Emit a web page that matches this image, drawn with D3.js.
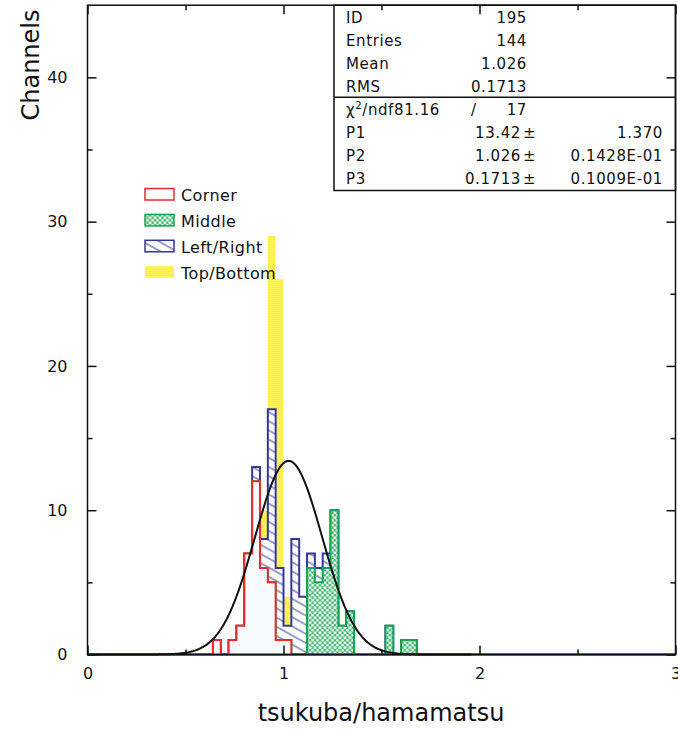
<!DOCTYPE html>
<html>
<head>
<meta charset="utf-8">
<script src="https://cdn.jsdelivr.net/npm/d3@7"></script>
<style>
  body { margin: 0; background: #fff; }
  text { font-family: "DejaVu Sans", sans-serif; fill: #111; }
</style>
</head>
<body>
<div id="chart"></div>
<script>
// histogram binning (tsukuba/hamamatsu ratio)
var binWidth = 0.04,
    xMin = 0, xMax = 3,
    firstBinLow = 0.64;

// counts per bin starting at 0.64, each histogram is cumulative like in the original plot
var corner        = [1,0,1,2,7,12,6,5,1,1,0,0,0,0,0,0,0,0,0,0,0,0,0,0,0,0];
var cornerMiddle  = [1,0,1,2,7,12,6,5,1,1,0,0,6,5,6,10,2,3,0,0,0,0,2,0,1,1];
var withLeftRight = [1,0,1,2,7,13,8,17,6,2,8,4,7,6,7,10,2,3,0,0,0,0,2,0,1,1];
var allChannels   = [1,0,1,2,7,13,10,29,26,4,8,4,7,6,7,10,2,3,0,0,0,0,2,0,1,1];

// gaussian fit parameters
var fitP1 = 13.42, fitP2 = 1.026, fitP3 = 0.1713;
var fitRange = [0, 1.96];

// axis ticks
var xTicks = [0, 1, 2, 3];
var xMinorTicks = [0.5, 1.5, 2.5];
var yTicks = [0, 10, 20, 30, 40];
var yMinorTicks = [5, 15, 25, 35];

// stats box text
var statLabels = ["ID", "Entries", "Mean", "RMS"];
var statValues = ["195", "144", "1.026", "0.1713"];
var chi2 = "81.16", ndf = "17";
var fitLabels = ["P1", "P2", "P3"];
var fitValues = ["13.42", "1.026", "0.1713"];
var fitErrors = ["1.370", "0.1428E-01", "0.1009E-01"];

var legendNames = ["Corner", "Middle", "Left/Right", "Top/Bottom"];

// set the dimensions and margins of the graph
var W = 678, H = 731;
var margin = { top: 5.2, right: 2.5, bottom: 76.5, left: 87.5 },
    width = W - margin.left - margin.right,
    height = H - margin.top - margin.bottom;

var svg = d3.select("#chart")
    .append("svg")
    .attr("width", W)
    .attr("height", H);

svg.append("rect").attr("width", W).attr("height", H).attr("fill", "#fff");

var defs = svg.append("defs");

// yellow dotted fill
var pY = defs.append("pattern").attr("id", "patYellow")
    .attr("patternUnits", "userSpaceOnUse").attr("width", 2).attr("height", 2);
pY.append("rect").attr("width", 2).attr("height", 2).attr("fill", "#fff21a");
pY.append("rect").attr("x", 1).attr("y", 1).attr("width", 1).attr("height", 1).attr("fill", "#fff9a8");

// green mesh fill
var pG = defs.append("pattern").attr("id", "patGreen")
    .attr("patternUnits", "userSpaceOnUse").attr("width", 5).attr("height", 5);
pG.append("rect").attr("width", 5).attr("height", 5).attr("fill", "#12a64e");
[[0, 0], [5, 0], [0, 5], [5, 5], [2.5, 2.5]].forEach(function (c) {
    pG.append("circle").attr("cx", c[0]).attr("cy", c[1]).attr("r", 1.6).attr("fill", "#fff");
});

// blue hatch fill
var pB = defs.append("pattern").attr("id", "patBlue")
    .attr("patternUnits", "userSpaceOnUse").attr("width", 10).attr("height", 8)
    .attr("patternTransform", "rotate(29)");
pB.append("rect").attr("width", 10).attr("height", 8).attr("fill", "#fff");
pB.append("line").attr("x1", 0).attr("x2", 10).attr("y1", 4).attr("y2", 4)
    .attr("stroke", "#33399a").attr("stroke-width", 1);

var g = svg.append("g")
    .attr("transform", "translate(" + margin.left + "," + margin.top + ")");

var x = d3.scaleLinear().domain([xMin, xMax]).range([0, width]);
var y = d3.scaleLinear().domain([0, 45]).range([height, 0]);

var nBins = Math.round((xMax - xMin) / binWidth);
var offset = Math.round((firstBinLow - xMin) / binWidth);

function fullBins(counts) {
    var pts = [];
    for (var i = 0; i < nBins; i++) {
        var j = i - offset;
        var v = (j >= 0 && j < counts.length) ? counts[j] : 0;
        pts.push({ x: xMin + i * binWidth, v: v });
    }
    pts.push({ x: xMax, v: pts[pts.length - 1].v });
    return pts;
}

var area = d3.area()
    .x(function (d) { return x(d.x); })
    .y0(y(0))
    .y1(function (d) { return y(d.v); })
    .curve(d3.curveStepAfter);

var hists = [
    { data: allChannels,   fill: "url(#patYellow)", stroke: "none" },
    { data: withLeftRight, fill: "url(#patBlue)",   stroke: "#33399a" },
    { data: cornerMiddle,  fill: "url(#patGreen)",  stroke: "#12a64e" },
    { data: corner,        fill: "#f6fafa",         stroke: "#ee2a2a" }
];

hists.forEach(function (h) {
    g.append("path")
        .datum(fullBins(h.data))
        .attr("d", area)
        .attr("fill", h.fill)
        .attr("stroke", h.stroke)
        .attr("stroke-width", 2)
        .attr("stroke-linejoin", "miter");
});

// gaussian fit curve
var curvePts = d3.range(fitRange[0], fitRange[1] + 1e-9, 0.01).map(function (t) {
    return { x: t, v: fitP1 * Math.exp(-0.5 * Math.pow((t - fitP2) / fitP3, 2)) };
});
g.append("path")
    .datum(curvePts)
    .attr("d", d3.line().x(function (d) { return x(d.x); }).y(function (d) { return y(d.v); }))
    .attr("fill", "none")
    .attr("stroke", "#111")
    .attr("stroke-width", 2);

// stats box
var boxLeft = 334 - margin.left, boxBottom = 190.5 - margin.top, boxDiv = 97.3 - margin.top;
g.append("rect")
    .attr("x", boxLeft).attr("y", 0)
    .attr("width", width - boxLeft).attr("height", boxBottom)
    .attr("fill", "#fff").attr("stroke", "#111").attr("stroke-width", 1.5);
g.append("line")
    .attr("x1", boxLeft).attr("x2", width).attr("y1", boxDiv).attr("y2", boxDiv)
    .attr("stroke", "#111").attr("stroke-width", 1.5);

var rowH = 23, row0 = 23.5 - margin.top;
var labX = 346 - margin.left, valX = 527 - margin.left, errX = 663 - margin.left;
var stats = g.append("g").style("font-size", "15px").style("letter-spacing", "0.6px");
statLabels.forEach(function (l, i) {
    stats.append("text").attr("x", labX).attr("y", row0 + i * rowH).text(l);
    stats.append("text").attr("x", valX).attr("y", row0 + i * rowH)
        .attr("text-anchor", "end").text(statValues[i]);
});
var chiRow = stats.append("text").attr("x", labX).attr("y", row0 + 4 * rowH);
chiRow.append("tspan").text("\u03c7");
chiRow.append("tspan").attr("dy", -6).style("font-size", "10px").text("2");
chiRow.append("tspan").attr("dy", 6).text("/ndf" + chi2);
stats.append("text").attr("x", 471 - margin.left).attr("y", row0 + 4 * rowH).text("/");
stats.append("text").attr("x", valX).attr("y", row0 + 4 * rowH)
    .attr("text-anchor", "end").text(ndf);
fitLabels.forEach(function (l, i) {
    var yy = row0 + (5 + i) * rowH;
    stats.append("text").attr("x", labX).attr("y", yy).text(l);
    stats.append("text").attr("x", valX - 6).attr("y", yy)
        .attr("text-anchor", "end").text(fitValues[i]);
    stats.append("text").attr("x", valX - 4).attr("y", yy).text("\u00b1");
    stats.append("text").attr("x", errX).attr("y", yy)
        .attr("text-anchor", "end").text(fitErrors[i]);
});

// legend
var legFills = ["#fff", "url(#patGreen)", "url(#patBlue)", "url(#patYellow)"];
var legStrokes = ["#ee2a2a", "#12a64e", "#33399a", "none"];
var legend = g.append("g").style("font-size", "16px").style("letter-spacing", "0.4px");
legendNames.forEach(function (n, i) {
    var yy = 188.5 - margin.top + i * 25.9;
    legend.append("rect")
        .attr("x", 145 - margin.left).attr("y", yy)
        .attr("width", 29).attr("height", 11.5)
        .attr("fill", legFills[i]).attr("stroke", legStrokes[i]).attr("stroke-width", 1.5);
    legend.append("text").attr("x", 181 - margin.left).attr("y", yy + 12.5).text(n);
});

// axes, ticks pointing inside the frame
function styleAxis(sel) {
    sel.select(".domain").remove();
    sel.selectAll("line").attr("stroke", "#111").attr("stroke-width", 1.5);
    sel.selectAll("text").style("font-size", "16px").attr("fill", "#111");
}

g.append("g").attr("transform", "translate(0," + height + ")")
    .call(d3.axisBottom(x).tickValues(xTicks).tickSize(-9).tickPadding(13).tickFormat(d3.format("d")))
    .call(styleAxis);
g.append("g").attr("transform", "translate(0," + height + ")")
    .call(d3.axisBottom(x).tickValues(xMinorTicks).tickSize(-5).tickFormat(""))
    .call(styleAxis);
g.append("g")
    .call(d3.axisTop(x).tickValues(xTicks).tickSize(-9).tickFormat(""))
    .call(styleAxis);
g.append("g")
    .call(d3.axisTop(x).tickValues(xMinorTicks).tickSize(-5).tickFormat(""))
    .call(styleAxis);

g.append("g")
    .call(d3.axisLeft(y).tickValues(yTicks).tickSize(-9).tickPadding(20).tickFormat(d3.format("d")))
    .call(styleAxis);
g.append("g")
    .call(d3.axisLeft(y).tickValues(yMinorTicks).tickSize(-5).tickFormat(""))
    .call(styleAxis);
g.append("g").attr("transform", "translate(" + width + ",0)")
    .call(d3.axisRight(y).tickValues(yTicks).tickSize(-9).tickFormat(""))
    .call(styleAxis);
g.append("g").attr("transform", "translate(" + width + ",0)")
    .call(d3.axisRight(y).tickValues(yMinorTicks).tickSize(-5).tickFormat(""))
    .call(styleAxis);

// frame
g.append("rect")
    .attr("width", width).attr("height", height)
    .attr("fill", "none").attr("stroke", "#111").attr("stroke-width", 1.5);

// axis titles
svg.append("text")
    .attr("x", 381).attr("y", 721)
    .attr("text-anchor", "middle")
    .style("font-size", "24px")
    .text("tsukuba/hamamatsu");

svg.append("text")
    .attr("transform", "translate(39,65) rotate(-90)")
    .attr("text-anchor", "middle")
    .style("font-size", "24px")
    .text("Channels");
</script>
</body>
</html>
